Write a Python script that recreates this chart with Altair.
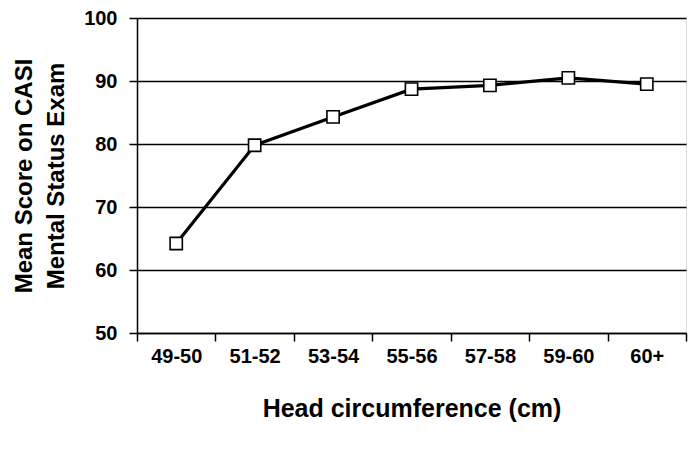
import altair as alt
import pandas as pd

categories = ["49-50", "51-52", "53-54", "55-56", "57-58", "59-60", "60+"]
scores = [64.2, 79.8, 84.3, 88.7, 89.3, 90.5, 89.5]

df = pd.DataFrame({"cat": categories, "score": scores})

FONT = "Liberation Sans"

x = alt.X("cat:N", sort=categories, title="Head circumference (cm)",
          scale=alt.Scale(paddingInner=0, paddingOuter=0),
          axis=alt.Axis(labelAngle=0, labelFont=FONT, labelFontSize=20, labelFontWeight="bold",
                        labelColor="black", labelPadding=5, tickBand="extent",
                        ticks=True, tickSize=8, tickColor="black", tickWidth=1.5,
                        domainColor="black", domainWidth=1.5, grid=False,
                        titleFont=FONT, titleFontSize=25, titleFontWeight="bold",
                        titleColor="black", titlePadding=30))
y = alt.Y("score:Q", title=["Mean Score on CASI", "Mental Status Exam"],
          scale=alt.Scale(domain=[50, 100], nice=False, zero=False),
          axis=alt.Axis(values=[50, 60, 70, 80, 90, 100], labelFont=FONT, labelFontSize=20,
                        labelFontWeight="bold", labelColor="black", labelPadding=12,
                        tickSize=8, tickColor="black", tickWidth=1.5,
                        domainColor="black", domainWidth=1.5,
                        grid=True, gridColor="black", gridWidth=1.5, gridOpacity=1,
                        titleFont=FONT, titleFontSize=24, titleFontWeight="bold",
                        titleColor="black", titlePadding=15, titleLineHeight=32))

line = alt.Chart(df).mark_line(color="black", strokeWidth=3.2).encode(x=x, y=y)
pts = alt.Chart(df).mark_point(shape="square", filled=True, fill="white", stroke="black",
                               strokeWidth=1.6, size=150, opacity=1).encode(x=x, y=y)

chart = (line + pts).properties(
    width=549, height=315,
    autosize=alt.AutoSizeParams(type="none"),
    padding={"left": 129, "top": 10, "right": 2, "bottom": 120},
).configure_view(stroke="black", strokeWidth=1.5).configure(background="white")

chart.save("out.html", embed_options={"renderer": "svg", "actions": False})
